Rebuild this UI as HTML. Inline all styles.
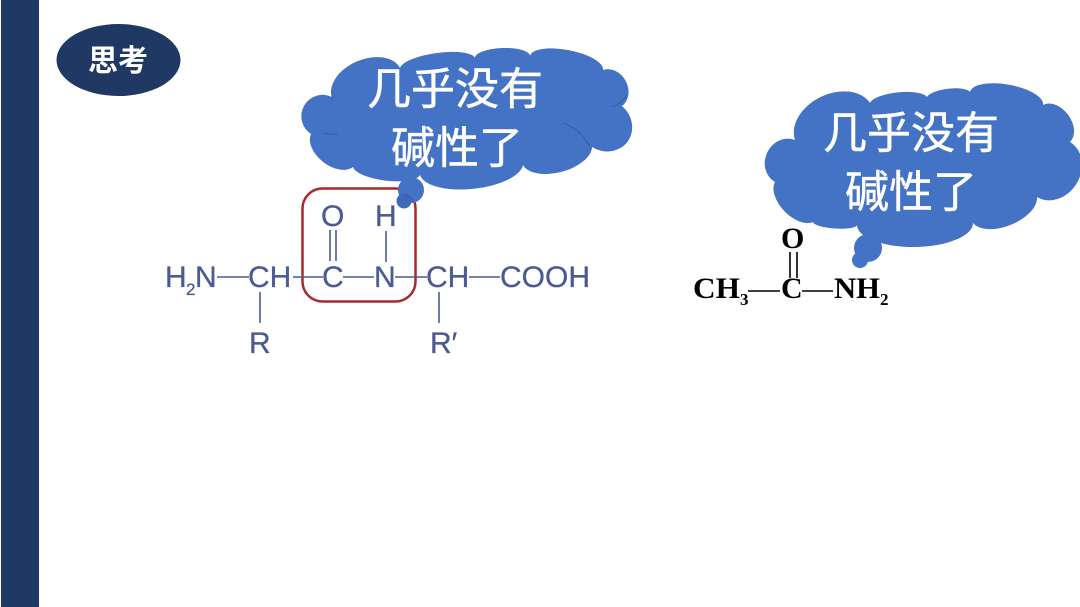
<!DOCTYPE html>
<html><head><meta charset="utf-8"><style>
html,body{margin:0;padding:0;background:#fff;width:1080px;height:607px;overflow:hidden}
svg{display:block}
.a{font-family:"Liberation Sans",sans-serif;font-size:30px;fill:#4b5a94;stroke:#4b5a94;stroke-width:.3px}
.s{font-family:"Liberation Serif",serif;font-size:30px;font-weight:bold;fill:#000}
.c{font-family:"Liberation Sans","Noto Sans CJK SC",sans-serif;font-size:44px;fill:#fff;stroke:#fff;stroke-width:.5px;text-anchor:middle}
</style></head><body>
<svg width="1080" height="607" viewBox="0 0 1080 607" xmlns="http://www.w3.org/2000/svg">
<rect width="1080" height="607" fill="#fff"/>
<rect x="1" y="0" width="38" height="607" fill="#1f3864"/>
<ellipse cx="118.500" cy="60" rx="62" ry="36" fill="#1f3864"/>
<text x="118" y="71" text-anchor="middle" font-family="'Liberation Sans','Noto Sans CJK SC',sans-serif" font-size="30" font-weight="bold" fill="#fff">思考</text>

<!-- formula 1 -->
<rect x="302.500" y="188.500" width="113" height="113" rx="20" fill="none" stroke="#a82a2a" stroke-width="2.500"/>
<g stroke="#4b5a94" stroke-width="1.600" fill="none">
<path d="M217 277H249M293 277H323M343 277H374M395 277H427M469 277H500"/>
<path d="M260 292V323M439 292V323M386 231V262M330 230V261M336 230V261"/>
</g>
<text class="a" x="165" y="287">H</text>
<text class="a" x="186" y="295" style="font-size:17px">2</text>
<text class="a" x="195" y="287">N</text>
<text class="a" x="248" y="287">CH</text>
<text class="a" x="322" y="287">C</text>
<text class="a" x="374" y="287">N</text>
<text class="a" x="426" y="287">CH</text>
<text class="a" x="500" y="287">COOH</text>
<text class="a" x="321" y="226">O</text>
<text class="a" x="375" y="226">H</text>
<text class="a" x="249" y="353">R</text>
<text class="a" x="430" y="353">R′</text>

<!-- cloud 1 -->
<path fill="#4472c4" d="M311 134A21.300 21 -60 0 1 332 97A37 24 -23 0 1 400 68A38 11 -8 0 1 475 58A27.500 9 -2 0 1 530 56A37 13 11 0 1 603 70A20.500 17 62 0 1 622 106A25.500 28 126 0 1 592 147A36 19 165 0 1 523 165A52 21 174 0 1 420 175A34 11 187 0 1 353 167A27 17 218 0 1 311 134Z"/>
<circle cx="411" cy="190" r="13" fill="#4472c4"/>
<circle cx="404" cy="201" r="7.500" fill="#3e69b8"/>
<g fill="none" stroke="#35599c" stroke-width="0.800">
<path d="M332 90Q331 95 333 100M612 107Q622 103 627 95M563 123Q582 130 590 147M323 133Q332 135 338 134M405 196a7 7 0 0 1 8 5"/>
</g>
<text class="c" x="455" y="104">几乎没有</text>
<text class="c" x="457" y="163">碱性了</text>

<!-- cloud 2 -->
<path fill="#4472c4" d="M775 182A23.300 21 -65 0 1 795 140A42 30 -26 0 1 870 103A29 9 -6 0 1 927 97A22 7 -7 0 1 970 92A37 14 10 0 1 1043 105A23 16 54 0 1 1070 142A32 27 121 0 1 1037 197A35 19 158 0 1 973 223A58 23 179 0 1 857 225A22 5 184 0 1 813 222A28 16 226 0 1 775 182Z"/>
<circle cx="868" cy="248" r="14" fill="#4472c4"/>
<circle cx="860" cy="260" r="8" fill="#4472c4"/>
<text class="c" x="911" y="148">几乎没有</text>
<text class="c" x="911" y="207">碱性了</text>

<!-- formula 2 -->
<g stroke="#000" stroke-width="1.600" fill="none">
<path d="M748 291H780M802 291H833M790 252V278M797 252V278"/>
</g>
<text class="s" x="693" y="298" textLength="47" lengthAdjust="spacingAndGlyphs">CH</text>
<text class="s" x="740" y="305" style="font-size:17px">3</text>
<text class="s" x="781" y="298">C</text>
<text class="s" x="781" y="248">O</text>
<text class="s" x="834" y="298" textLength="46" lengthAdjust="spacingAndGlyphs">NH</text>
<text class="s" x="880" y="305" style="font-size:17px">2</text>
</svg>
</body></html>
